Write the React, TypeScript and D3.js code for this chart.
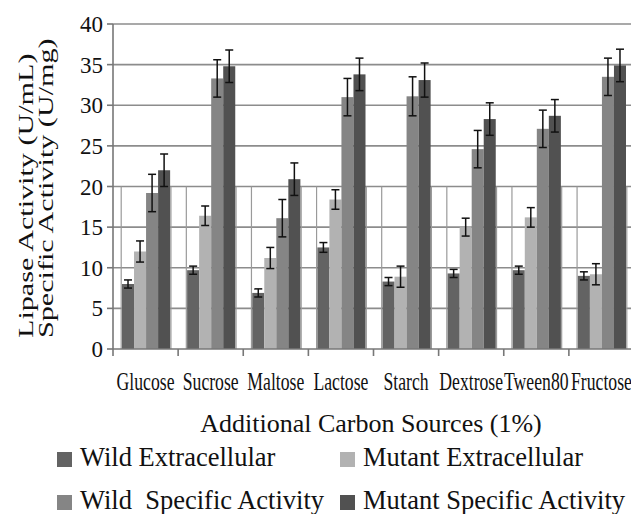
import React, { useEffect, useRef } from 'react';
import * as d3 from 'd3';

const categories = ['Glucose', 'Sucrose', 'Maltose', 'Lactose', 'Starch', 'Dextrose', 'Tween80', 'Fructose'];
const seriesNames = ['Wild Extracellular', 'Mutant Extracellular', 'Wild  Specific Activity', 'Mutant Specific Activity'];
const seriesColors = ['#636363', '#b2b2b2', '#858585', '#515151'];

const wildExtracellular = [8.0, 9.7, 6.9, 12.5, 8.3, 9.3, 9.7, 9.0];
const wildExtracellularErr = [0.5, 0.5, 0.5, 0.6, 0.5, 0.5, 0.5, 0.5];
const mutantExtracellular = [12.0, 16.4, 11.2, 18.4, 8.9, 15.0, 16.2, 9.2];
const mutantExtracellularErr = [1.3, 1.2, 1.3, 1.2, 1.3, 1.1, 1.2, 1.3];
const wildSpecific = [19.2, 33.3, 16.1, 31.0, 31.1, 24.6, 27.1, 33.5];
const wildSpecificErr = [2.3, 2.3, 2.3, 2.3, 2.4, 2.3, 2.3, 2.3];
const mutantSpecific = [22.0, 34.8, 20.9, 33.8, 33.1, 28.3, 28.7, 34.9];
const mutantSpecificErr = [2.0, 2.0, 2.0, 2.0, 2.1, 2.0, 2.0, 2.0];

const yTicks = [0, 5, 10, 15, 20, 25, 30, 35, 40];

const W = 631;
const H = 514;
const FONT = '"Liberation Serif", Tinos, "Times New Roman", Times, serif';

export default function App() {
    const ref = useRef<SVGSVGElement>(null);

    useEffect(() => {
        document.body.style.margin = '0';
        const svg = d3.select(ref.current);
        svg.selectAll('*').remove();

        const values = [wildExtracellular, mutantExtracellular, wildSpecific, mutantSpecific];
        const errors = [wildExtracellularErr, mutantExtracellularErr, wildSpecificErr, mutantSpecificErr];

        const x0 = d3.scaleBand<string>().domain(categories).range([113, 634]).padding(0);
        const x1 = d3.scaleBand<number>().domain([0, 1, 2, 3]).range([9, x0.bandwidth() - 8]).padding(0);
        const y = d3.scaleLinear().domain([0, 40]).range([349, 24]);

        // horizontal grid
        svg.append('g')
            .selectAll('line')
            .data(yTicks.slice(1))
            .join('line')
            .attr('x1', 113)
            .attr('x2', W)
            .attr('y1', (d) => y(d))
            .attr('y2', (d) => y(d))
            .attr('stroke', '#8c8c8c')
            .attr('stroke-width', 1.6);

        // faint vertical lines at the group edges in the lower part
        const edges: number[] = [];
        categories.forEach((c) => {
            const start = (x0(c) ?? 0) + (x1(0) ?? 0);
            edges.push(start - 0.8, start + 4 * x1.bandwidth() + 0.8);
        });
        svg.append('g')
            .selectAll('line')
            .data(edges)
            .join('line')
            .attr('x1', (d) => d).attr('x2', (d) => d)
            .attr('y1', y(20)).attr('y2', y(0))
            .attr('stroke', '#9a9a9a')
            .attr('stroke-width', 1.2);

        // bars
        const groups = svg.append('g')
            .selectAll('g')
            .data(categories)
            .join('g')
            .attr('transform', (c) => `translate(${x0(c)}, 0)`);

        groups.selectAll('rect')
            .data((c, i) => values.map((s, k) => ({ k, v: s[i] })))
            .join('rect')
            .attr('x', (d) => x1(d.k) ?? 0)
            .attr('width', x1.bandwidth())
            .attr('y', (d) => y(d.v))
            .attr('height', (d) => y(0) - y(d.v))
            .attr('fill', (d) => seriesColors[d.k]);

        // error bars
        const errs = groups.selectAll('g.err')
            .data((c, i) => values.map((s, k) => ({ k, v: s[i], e: errors[k][i] })))
            .join('g')
            .attr('class', 'err')
            .attr('transform', (d) => `translate(${(x1(d.k) ?? 0) + x1.bandwidth() / 2}, 0)`)
            .attr('stroke', '#111')
            .attr('stroke-width', 1.5);
        errs.append('line').attr('x1', 0).attr('x2', 0).attr('y1', (d) => y(d.v + d.e)).attr('y2', (d) => y(d.v - d.e));
        errs.append('line').attr('x1', -4).attr('x2', 4).attr('y1', (d) => y(d.v + d.e)).attr('y2', (d) => y(d.v + d.e));
        errs.append('line').attr('x1', -4).attr('x2', 4).attr('y1', (d) => y(d.v - d.e)).attr('y2', (d) => y(d.v - d.e));

        // axes
        svg.append('line')
            .attr('x1', 113).attr('x2', W)
            .attr('y1', y(0)).attr('y2', y(0))
            .attr('stroke', '#777').attr('stroke-width', 1.6);
        svg.append('line')
            .attr('x1', 113).attr('x2', 113)
            .attr('y1', y(40)).attr('y2', y(0))
            .attr('stroke', '#777').attr('stroke-width', 1.6);
        svg.append('g')
            .selectAll('line')
            .data(yTicks)
            .join('line')
            .attr('x1', 107).attr('x2', 113)
            .attr('y1', (d) => y(d)).attr('y2', (d) => y(d))
            .attr('stroke', '#777').attr('stroke-width', 1.6);
        svg.append('g')
            .selectAll('line')
            .data(categories.map((c) => x0(c) ?? 0).concat([634]))
            .join('line')
            .attr('x1', (d) => d).attr('x2', (d) => d)
            .attr('y1', y(0)).attr('y2', y(0) + 7)
            .attr('stroke', '#777').attr('stroke-width', 1.6);

        // y tick labels
        svg.append('g')
            .selectAll('text')
            .data(yTicks)
            .join('text')
            .attr('x', 103)
            .attr('y', (d) => y(d) + 8)
            .attr('text-anchor', 'end')
            .style('font-family', FONT)
            .attr('font-size', 23)
            .attr('fill', '#111')
            .text((d) => d);

        // x tick labels (condensed)
        svg.append('g')
            .selectAll('text')
            .data(categories)
            .join('text')
            .attr('transform', (c) => `translate(${(x0(c) ?? 0) + x0.bandwidth() / 2}, 390) scale(0.68, 1)`)
            .attr('text-anchor', 'middle')
            .style('font-family', FONT)
            .attr('font-size', 26)
            .attr('fill', '#111')
            .text((c) => c);

        // axis titles
        svg.append('text')
            .attr('x', 371)
            .attr('y', 432)
            .attr('text-anchor', 'middle')
            .style('font-family', FONT)
            .attr('font-size', 26)
            .attr('fill', '#111')
            .text('Additional Carbon Sources (1%)');

        const yTitle = ['Lipase Activity (U/mL)', 'Specific Activity (U/mg)'];
        svg.append('g')
            .selectAll('text')
            .data(yTitle)
            .join('text')
            .attr('transform', (d, i) => `translate(${33 + i * 20}, 338) rotate(-90) scale(1.37, 1)`)
            .attr('text-anchor', 'start')
            .style('font-family', FONT)
            .attr('font-size', 22)
            .attr('fill', '#111')
            .text((d) => d);

        // legend
        const legend = svg.append('g')
            .selectAll('g')
            .data(seriesNames)
            .join('g')
            .attr('transform', (d, i) => `translate(${i % 2 === 0 ? 57 : 340}, ${i < 2 ? 452 : 495})`);
        legend.append('rect')
            .attr('width', 15)
            .attr('height', 15)
            .attr('fill', (d, i) => seriesColors[i]);
        legend.append('text')
            .attr('x', 23)
            .attr('y', 14)
            .style('font-family', FONT)
            .attr('font-size', 26.5)
            .attr('fill', '#111')
            .style('white-space', 'pre')
            .text((d) => d);
    }, []);

    return (
        <svg
            ref={ref}
            width={W}
            height={H}
            style={{ display: 'block', background: '#fff' }}
        />
    );
}
